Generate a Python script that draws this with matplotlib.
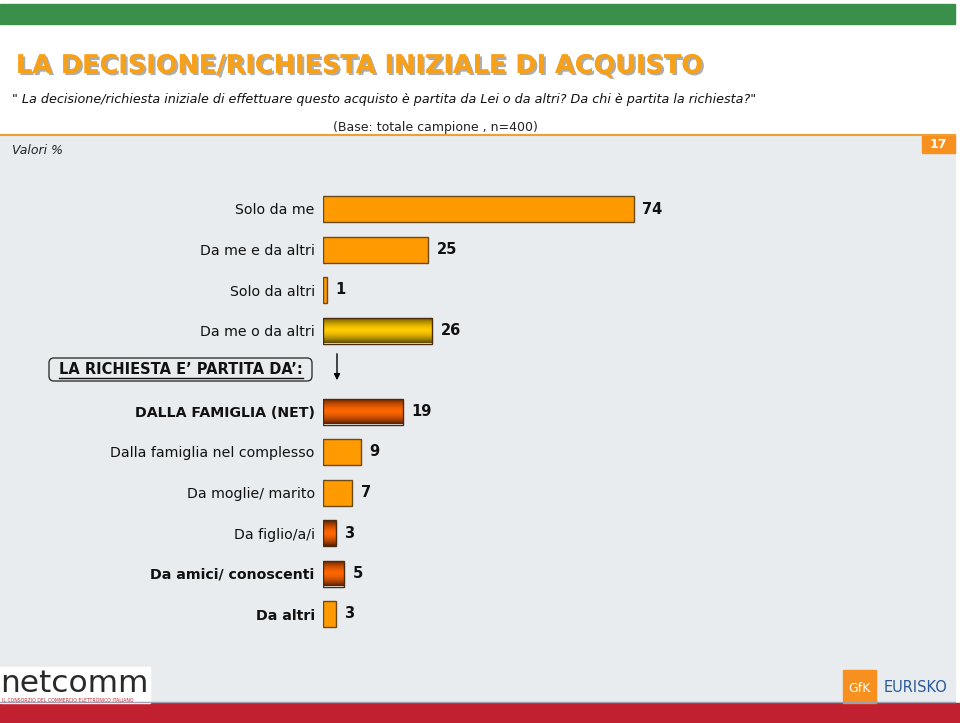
import numpy as np
import matplotlib
matplotlib.use("Agg")
import matplotlib.pyplot as plt
from matplotlib.patches import Rectangle, FancyBboxPatch
import matplotlib.patheffects as pe

# Data
categories = ["Solo da me", "Da me e da altri", "Solo da altri", "Da me o da altri",
              "DALLA FAMIGLIA (NET)", "Dalla famiglia nel complesso", "Da moglie/ marito",
              "Da figlio/a/i", "Da amici/ conoscenti", "Da altri"]
values = [74, 25, 1, 26, 19, 9, 7, 3, 5, 3]
row_pos = [0, 1, 2, 3, 5, 6, 7, 8, 9, 10]
bold_labels = ["DALLA FAMIGLIA (NET)", "Da amici/ conoscenti", "Da altri"]
gold_bars = ["Da me o da altri"]
red_bars = ["DALLA FAMIGLIA (NET)", "Da figlio/a/i", "Da amici/ conoscenti"]

title = "LA DECISIONE/RICHIESTA INIZIALE DI ACQUISTO"
question = "\" La decisione/richiesta iniziale di effettuare questo acquisto è partita da Lei o da altri? Da chi è partita la richiesta?\""
base_note = "(Base: totale campione , n=400)"
header = "LA RICHIESTA E\u2019 PARTITA DA\u2019:"

W, H = 960, 723
fig = plt.figure(figsize=(9.6, 7.23), dpi=100)

# background axes in pixel coordinates
bg = fig.add_axes([0, 0, 1, 1])
bg.set_xlim(0, W)
bg.set_ylim(H, 0)
bg.axis("off")

bg.add_patch(Rectangle((0, 4), 955, 20, color="#3a8f4a"))
bg.add_patch(Rectangle((0, 135), 955, 568, color="#e9ecee"))
bg.plot([0, 955], [135, 135], color="#f0a030", lw=1.5)
bg.add_patch(Rectangle((922, 135), 33, 18, color="#f7901e"))
bg.text(938.5, 144, "17", color="white", fontsize=9, fontweight="bold", ha="center", va="center")
bg.plot([0, 955], [702, 702], color="#9aa0b0", lw=1)
bg.add_patch(Rectangle((0, 703), W, 20, color="#c0202f"))

t = bg.text(16, 66, title, color="#f7a01a", fontsize=18.4, fontweight="bold",
            ha="left", va="center")
t.set_path_effects([pe.withSimplePatchShadow(offset=(1.5, -1.5), shadow_rgbFace="#8a8a8a", alpha=0.7),
                    pe.Normal()])
bg.text(12, 99, question, fontsize=9.2, style="italic", ha="left", va="center", color="#111111")
bg.text(435, 128, base_note, fontsize=9, ha="center", va="center", color="#222222")
bg.text(12, 151, "Valori %", fontsize=9, style="italic", ha="left", va="center", color="#222222")

# footer logos
bg.add_patch(Rectangle((0, 667), 150, 36, color="white"))
bg.text(0, 684, "netcomm", fontsize=22.5, color="#2a2a2a", ha="left", va="center")
bg.text(2, 700, "IL CONSORZIO DEL COMMERCIO ELETTRONICO ITALIANO", fontsize=3.3, color="#c0202f",
        ha="left", va="center")
bg.add_patch(Rectangle((843, 670), 33, 33, color="#f7901e"))
bg.text(859.5, 688, "GfK", fontsize=9, color="white", ha="center", va="center")
bg.text(884, 688, "EURISKO", fontsize=10.5, color="#2a5a9a", ha="left", va="center")

# header box and arrow
bg.add_patch(FancyBboxPatch((49, 358), 263, 23, boxstyle="round,pad=0,rounding_size=5",
                            fc="none", ec="#333333", lw=1))
ht = bg.text(181, 369.5, header, fontsize=10.5, fontweight="bold", ha="center", va="center", color="#111111")
bg.annotate("", xy=(337, 383), xytext=(337, 351),
            arrowprops=dict(arrowstyle="-|>", color="black", lw=1, mutation_scale=9))

# bar axes
px_per_unit = 4.2
row_px = 40.5
x0, y_first = 323, 209
ax = fig.add_axes([x0 / W, 1 - (y_first + 10.5 * row_px) / H, 100 * px_per_unit / W, 11 * row_px / H])
ax.set_facecolor("none")
ax.set_xlim(0, 100)
ax.set_ylim(10.5, -0.5)

bh = 26 / row_px
bars = ax.barh(row_pos, values, height=bh, color="#ff9a00", edgecolor="#6b4a1a", linewidth=1, zorder=2)


def gradient(edge, mid, n=64):
    tt = np.abs(np.linspace(-1, 1, n))[:, None, None] ** 1.6
    e = np.array(matplotlib.colors.to_rgb(edge))
    m = np.array(matplotlib.colors.to_rgb(mid))
    return tt * e + (1 - tt) * m


for cat, patch in zip(categories, bars):
    if cat in gold_bars or cat in red_bars:
        img = gradient("#5c4a00", "#ffcc00") if cat in gold_bars else gradient("#5a1e00", "#ff6600")
        x, y = patch.get_x(), patch.get_y()
        w, h = patch.get_width(), patch.get_height()
        im = ax.imshow(img, extent=[x, x + w, y + h, y], aspect="auto", zorder=2.5, interpolation="bilinear")
        im.set_clip_path(patch)
        patch.set_facecolor("none")
        patch.set_edgecolor("#4a2a10")
        patch.set_zorder(3)

ax.set_xlim(0, 100)
ax.set_ylim(10.5, -0.5)

for p, v in zip(row_pos, values):
    ax.text(v + 2.0, p, str(v), fontsize=10.5, fontweight="bold", va="center", ha="left", color="#111111")

ax.set_yticks(row_pos, labels=categories)
ax.tick_params(axis="y", length=0, pad=6, labelsize=10.2, labelcolor="#111111")
for lbl in ax.get_yticklabels():
    if lbl.get_text() in bold_labels:
        lbl.set_fontweight("bold")
ax.set_xticks([])
for s in ax.spines.values():
    s.set_visible(False)

# underline for header text
fig.canvas.draw()
bb = ht.get_window_extent().transformed(bg.transData.inverted())
bg.plot([bb.x0, bb.x1], [377.5, 377.5], color="#111111", lw=1)

fig.savefig("out.png", dpi=100)
